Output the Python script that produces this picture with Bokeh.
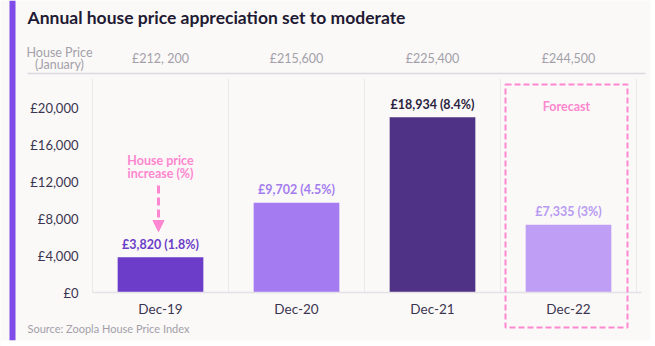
from bokeh.plotting import figure
from bokeh.models import (ColumnDataSource, Range1d, FixedTicker, LabelSet, LinearAxis,
                          Label, BoxAnnotation, Arrow, NormalHead)
from bokeh.core.properties import value
from bokeh.embed import file_html
from bokeh.resources import INLINE

# ---- data ----
categories = ["Dec-19", "Dec-20", "Dec-21", "Dec-22"]
increase = [3820, 9702, 18934, 7335]
increase_pct = ["1.8%", "4.5%", "8.4%", "3%"]
jan_price = ["£212, 200", "£215,600", "£225,400", "£244,500"]
y_ticks = [0, 4000, 8000, 12000, 16000, 20000]
y_tick_labels = ["£0", "£4,000", "£8,000", "£12,000", "£16,000", "£20,000"]

bar_colors = ["#6b3dc8", "#a57bf2", "#4f3185", "#bf9ff6"]
label_colors = ["#6b3dc8", "#a47cf0", "#2b2440", "#b89bf2"]

FONT = "Lato"
PINK = "#ff86d0"
GREY = "#a3a0aa"
DARK = "#3a3550"
BG = "#faf9f7"

W, H = 655, 346
# pixel geometry of the plotting area inside the full canvas
X0, CAT_W = 92, 136          # left edge of the bar area, width of one category band
Y0, PX_PER_UNIT = 292, 9.25 / 1000.0   # baseline pixel row, pixels per £

def ux(px):  # canvas pixel x -> data x
    return (px - X0) / CAT_W

def vy(py):  # canvas pixel y (from top) -> data y
    return (Y0 - py) / PX_PER_UNIT

n = len(categories)
centers = [i + 0.5 for i in range(n)]
labels = [f"£{v:,} ({p})" for v, p in zip(increase, increase_pct)]
src = ColumnDataSource(dict(x=centers, val=increase, color=bar_colors,
                            lab=labels, lcolor=label_colors))

p = figure(width=W, height=H, x_range=Range1d(ux(0), ux(W)), y_range=Range1d(vy(H), vy(0)),
           output_backend="svg", toolbar_location=None, x_axis_type=None, y_axis_type=None,
           min_border=0)
p.background_fill_color = BG
p.border_fill_color = BG
p.outline_line_color = None
p.grid.visible = False

# vertical separators between categories
bounds_x = list(range(n + 1))
p.segment(x0=bounds_x, x1=bounds_x, y0=[0] * (n + 1), y1=[vy(78)] * (n + 1),
          line_color="#ebe9ed", line_width=1)

p.vbar(x="x", top="val", width=0.63, fill_color="color", line_color=None, source=src)

# y axis
yaxis = LinearAxis(fixed_location=0, ticker=FixedTicker(ticks=y_ticks),
                   major_label_overrides={t: s for t, s in zip(y_ticks, y_tick_labels)},
                   axis_line_color=None, major_tick_line_color=None, minor_tick_line_color=None,
                   major_label_standoff=8, major_label_text_font=FONT,
                   major_label_text_font_size="13px", major_label_text_color=DARK)
p.add_layout(yaxis, "left")

# x axis (categories)
xaxis = LinearAxis(fixed_location=0, ticker=FixedTicker(ticks=centers),
                   major_label_overrides={c: s for c, s in zip(centers, categories)},
                   bounds=(0, ux(641)), axis_line_color="#e4e2e7", axis_line_width=1.5,
                   major_tick_line_color=None, minor_tick_line_color=None,
                   major_label_standoff=2, major_label_text_font=FONT,
                   major_label_text_font_size="13.5px", major_label_text_color=DARK)
p.add_layout(xaxis, "below")

# header axis: January house prices
top_axis = LinearAxis(fixed_location=vy(73), ticker=FixedTicker(ticks=centers),
                      major_label_overrides={c: s for c, s in zip(centers, jan_price)},
                      bounds=(ux(27), ux(645)), axis_line_color="#dcdae0", axis_line_width=1.5,
                      major_tick_line_color=None, minor_tick_line_color=None,
                      major_label_standoff=2, major_label_text_font=FONT,
                      major_label_text_font_size="12.5px", major_label_text_color=GREY)
p.add_layout(top_axis, "above")

# bar value labels
p.add_layout(LabelSet(x="x", y="val", text="lab", source=src, y_offset=13,
                      text_align="center", text_baseline="middle", text_color="lcolor",
                      text_font=value(FONT), text_font_size="12.5px", text_font_style="bold"))

def lab(text, x, y, **kw):
    d = dict(x=x, y=H - y, x_units="screen", y_units="screen", text=text,
             text_font=FONT, text_baseline="middle")
    d.update(kw)
    p.add_layout(Label(**d))

def box(x0, x1, y0, y1, **kw):
    d = dict(left=x0, right=x1, top=H - y0, bottom=H - y1,
             left_units="screen", right_units="screen", top_units="screen", bottom_units="screen",
             line_color=None, fill_alpha=1, line_alpha=1)
    d.update(kw)
    p.add_layout(BoxAnnotation(**d))

# frame cosmetics
box(9, 15, 0, 340, fill_color="#7f4be8")
box(0, 655, 340, 346, fill_color="white")
box(650, 655, 0, 346, fill_color="white")

lab("Annual house price appreciation set to moderate", 27, 17, text_font_size="17.5px",
    text_font_style="bold", text_color="#1f1a33")
lab("House Price", 59, 52, text_align="center", text_font_size="12.5px", text_color=GREY)
lab("(January)", 59, 64, text_align="center", text_font_size="12.5px", text_color=GREY)
lab("Source: Zoopla House Price Index", 27, 328, text_font_size="11px", text_color=GREY)

# forecast box
box(505, 627, 84, 327, fill_alpha=0, line_color=PINK, line_width=2, line_dash="6 3")
lab("Forecast", 566, 106, text_align="center", text_font_size="12.5px",
    text_font_style="bold", text_color=PINK)

# annotation with arrow
lab("House price", 160, 160, text_align="center", text_font_size="12.5px",
    text_font_style="bold", text_color=PINK)
lab("increase (%)", 160, 173, text_align="center", text_font_size="12.5px",
    text_font_style="bold", text_color=PINK)
p.add_layout(Arrow(x_start=158, y_start=H - 185, x_end=158, y_end=H - 231,
                   start_units="screen", end_units="screen",
                   line_color=PINK, line_width=3, line_dash="8 4",
                   end=NormalHead(size=11, fill_color=PINK, line_color=PINK)))

open("out.html", "w").write(file_html(p, INLINE))
